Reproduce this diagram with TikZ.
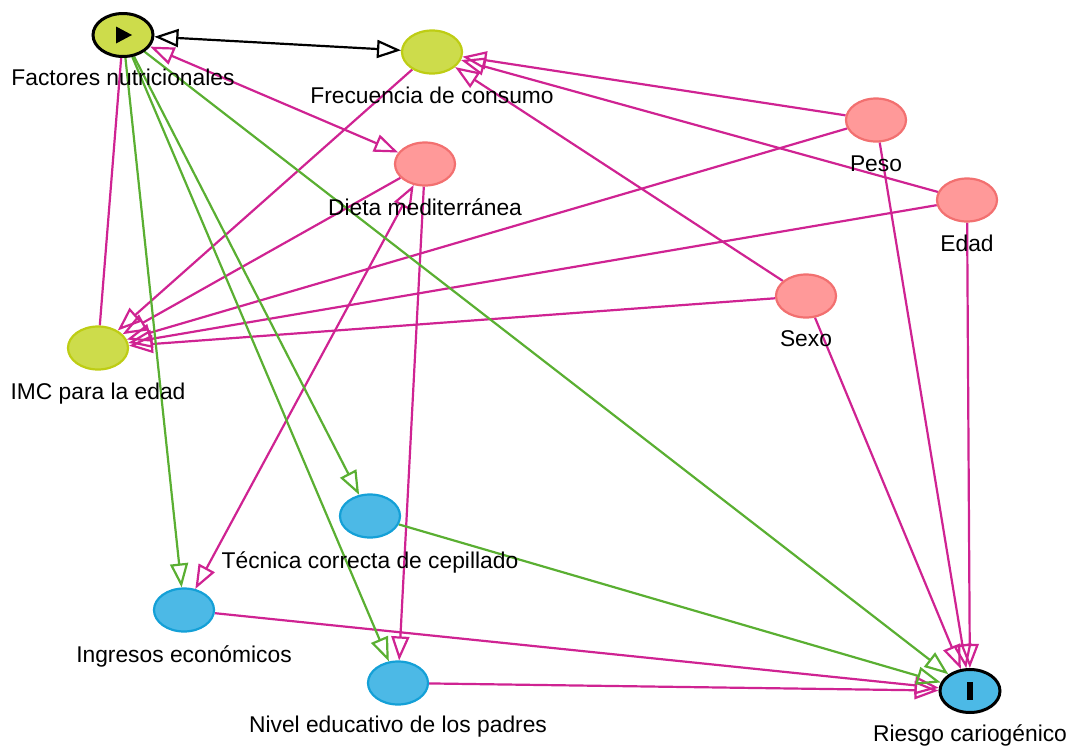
\documentclass[tikz,border=0pt]{standalone}
\usepackage{fontspec}
\setmainfont{Liberation Sans}
\usetikzlibrary{arrows.meta,shapes.geometric,backgrounds}
\definecolor{pk}{RGB}{207,35,146}
\definecolor{gr}{RGB}{90,175,50}
\definecolor{ygfill}{RGB}{205,220,75}
\definecolor{ygline}{RGB}{190,205,20}
\definecolor{pnfill}{RGB}{255,153,153}
\definecolor{pnline}{RGB}{242,112,112}
\definecolor{blfill}{RGB}{76,185,230}
\definecolor{blline}{RGB}{20,160,215}
\begin{document}
\begin{tikzpicture}[x=1pt,y=-1pt,
  >={Triangle[open,length=24pt,width=18pt]},
  vtx/.style={ellipse,minimum width=60pt,minimum height=43pt,inner sep=0pt,line width=2.2pt},
  yg/.style={vtx,fill=ygfill,draw=ygline},
  pn/.style={vtx,fill=pnfill,draw=pnline},
  bl/.style={vtx,fill=blfill,draw=blline},
  sel/.style={line width=3pt,draw=black},
  lbl/.style={anchor=base,inner sep=0pt,font=\fontsize{22.8pt}{26pt}\selectfont},
  pe/.style={draw=pk,line width=2.2pt,->},
  pee/.style={draw=pk,line width=2.2pt,<->},
  pl/.style={draw=pk,line width=2.2pt},
  ge/.style={draw=gr,line width=2.2pt,->},
  be/.style={draw=black,line width=2.2pt,<->}]
\useasboundingbox (0,0) rectangle (1072,747);
% nodes
\node[yg,sel] (fn) at (123,35) {};
\node[yg] (fc) at (432,52) {};
\node[pn] (dm) at (425,164) {};
\node[pn] (peso) at (876,120) {};
\node[pn] (edad) at (967,200) {};
\node[pn] (sexo) at (806,296) {};
\node[yg] (imc) at (98,348) {};
\node[bl] (tec) at (370,516) {};
\node[bl] (ing) at (184,610) {};
\node[bl] (niv) at (398,683) {};
\node[bl,sel] (rie) at (970,691) {};
% symbols
\fill (fn.center) ++(-7,-8.5) -- ++(16,8.5) -- ++(-16,8.5) -- cycle;
\fill (rie.center) ++(-3,-9) rectangle ++(6,18);
% labels
\node[lbl] (fnl) at ([yshift=-50pt]fn.center) {Factores nutricionales};
\node[lbl] (fcl) at ([yshift=-51pt]fc.center) {Frecuencia de consumo};
\node[lbl] (dml) at ([yshift=-51pt]dm.center) {Dieta mediterránea};
\node[lbl] (pesol) at ([yshift=-51pt]peso.center) {Peso};
\node[lbl] (edadl) at ([yshift=-51pt]edad.center) {Edad};
\node[lbl] (sexol) at ([yshift=-50pt]sexo.center) {Sexo};
\node[lbl] (imcl) at ([yshift=-51pt]imc.center) {IMC para la edad};
\node[lbl] (tecl) at ([yshift=-52pt]tec.center) {Técnica correcta de cepillado};
\node[lbl] (ingl) at ([yshift=-52pt]ing.center) {Ingresos económicos};
\node[lbl] (nivl) at ([yshift=-49pt]niv.center) {Nivel educativo de los padres};
\node[lbl] (riel) at ([yshift=-50pt]rie.center) {Riesgo cariogénico};
% edges
\begin{scope}[on background layer]
\draw[be] (fn) -- (fc);
\draw[pee] (fn) -- (dm);
\draw[pl] (imc) -- (fn);
\draw[pe] (fc) -- (imc);
\draw[pe] (dm) -- (imc);
\draw[pe] (peso) -- (imc);
\draw[pe] (edad) -- (imc);
\draw[pe] (sexo) -- (imc);
\draw[pe] (peso) -- (fc);
\draw[pe] (edad) -- (fc);
\draw[pe] (sexo) -- (fc);
\draw[pee] (dm) -- (ing);
\draw[pe] (dm) -- (niv);
\draw[pe] (ing) -- (rie);
\draw[pe] (niv) -- (rie);
\draw[pe] (sexo) -- (rie);
\draw[pe] (peso) -- (rie);
\draw[pe] (edad) -- (rie);
\draw[ge] (fn) -- (ing);
\draw[ge] (fn) -- (tec);
\draw[ge] (fn) -- (niv);
\draw[ge] (fn) -- (rie);
\draw[ge] (tec) -- (rie);
\end{scope}
\end{tikzpicture}
\end{document}
